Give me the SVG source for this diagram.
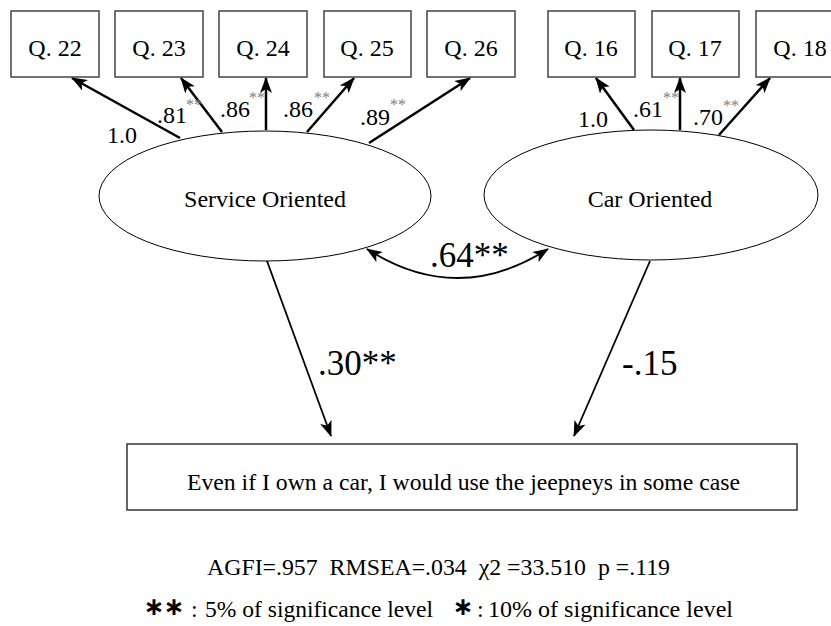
<svg xmlns="http://www.w3.org/2000/svg" width="831" height="626" viewBox="0 0 831 626">
<style>
  text { font-family: "Liberation Serif", "Tinos", "Times New Roman", "DejaVu Serif", serif; fill: #000; }
  .box { fill: #fff; stroke: #444; stroke-width: 1.5; }
  .ell { fill: #fff; stroke: #000; stroke-width: 1; }
  .q { font-size: 24px; text-anchor: middle; }
  .lbl { font-size: 24px; }
  .sup { font-size: 16px; fill: #808080; }
  .big { font-size: 35px; }
  .note { font-size: 24px; }
  .star { font-family: "DejaVu Sans", sans-serif; font-size: 25px; text-anchor: middle; font-weight: bold; }
  .thick { stroke: #000; stroke-width: 2.5; fill: none; marker-end: url(#ah); }
  .thin { stroke: #000; stroke-width: 1.8; fill: none; marker-end: url(#ah2); }
</style>
<defs>
  <marker id="ah" markerUnits="userSpaceOnUse" viewBox="0 0 16 12" refX="15" refY="6" markerWidth="16" markerHeight="12" orient="auto">
    <path d="M0,0 L16,6 L0,12 L4,6 z" fill="#000"/>
  </marker>
  <marker id="ah2" markerUnits="userSpaceOnUse" viewBox="0 0 16 12" refX="15" refY="6" markerWidth="16" markerHeight="12" orient="auto-start-reverse">
    <path d="M0,0 L16,6 L0,12 L4,6 z" fill="#000"/>
  </marker>
</defs>

<g id="connectors">
  <line class="thick" x1="180" y1="138" x2="72" y2="78"/>
  <line class="thick" x1="222" y1="132" x2="181" y2="78"/>
  <line class="thick" x1="266" y1="130" x2="266" y2="78"/>
  <line class="thick" x1="307" y1="132" x2="354" y2="78"/>
  <line class="thick" x1="369" y1="143" x2="470" y2="78"/>
  <line class="thick" x1="634" y1="130" x2="596" y2="78"/>
  <line class="thick" x1="680" y1="130" x2="680" y2="78"/>
  <line class="thick" x1="719" y1="135" x2="770" y2="78"/>
  <path class="thin" d="M367,249 Q457,307 548,249" style="marker-start:url(#ah2)"/>
  <line class="thin" x1="267" y1="261" x2="331" y2="436"/>
  <line class="thin" x1="650" y1="261" x2="574" y2="436"/>
</g>

<g id="q22"><rect class="box" x="11" y="11" width="88" height="66"/><text class="q" x="55" y="56">Q. 22</text></g>
<g id="q23"><rect class="box" x="115" y="11" width="88" height="66"/><text class="q" x="159" y="56">Q. 23</text></g>
<g id="q24"><rect class="box" x="219" y="11" width="88" height="66"/><text class="q" x="263" y="56">Q. 24</text></g>
<g id="q25"><rect class="box" x="324" y="11" width="87" height="66"/><text class="q" x="367" y="56">Q. 25</text></g>
<g id="q26"><rect class="box" x="427" y="11" width="88" height="66"/><text class="q" x="471" y="56">Q. 26</text></g>
<g id="q16"><rect class="box" x="548" y="11" width="87" height="66"/><text class="q" x="591" y="56">Q. 16</text></g>
<g id="q17"><rect class="box" x="652" y="11" width="87" height="66"/><text class="q" x="695" y="56">Q. 17</text></g>
<g id="q18"><rect class="box" x="756" y="11" width="88" height="66"/><text class="q" x="800" y="56">Q. 18</text></g>

<g id="service">
  <ellipse class="ell" cx="265" cy="196" rx="166" ry="65"/>
  <text class="q" x="265" y="207">Service Oriented</text>
</g>
<g id="car">
  <ellipse class="ell" cx="651" cy="195" rx="167" ry="65"/>
  <text class="q" x="650" y="207">Car Oriented</text>
</g>

<g id="outcome">
  <rect class="box" x="127" y="444" width="670" height="66" style="stroke:#333"/>
  <text class="note" x="187" y="490" textLength="553" lengthAdjust="spacingAndGlyphs">Even if I own a car, I would use the jeepneys in some case</text>
</g>

<g id="labels">
  <text class="lbl" x="107" y="143">1.0</text>
  <text class="lbl" x="157" y="123">.81</text><text class="sup" x="186" y="110">**</text>
  <text class="lbl" x="220" y="117">.86</text><text class="sup" x="249" y="103">**</text>
  <text class="lbl" x="283" y="117">.86</text><text class="sup" x="314" y="103">**</text>
  <text class="lbl" x="360" y="125">.89</text><text class="sup" x="390" y="110">**</text>
  <text class="lbl" x="578" y="127">1.0</text>
  <text class="lbl" x="633" y="117">.61</text><text class="sup" x="663" y="103">**</text>
  <text class="lbl" x="693" y="125">.70</text><text class="sup" x="723" y="111">**</text>
  <text class="big" x="430" y="267">.64**</text>
  <text class="big" x="318" y="375">.30**</text>
  <text class="big" x="622" y="375">-.15</text>
</g>

<g id="notes">
  <text class="note" x="207" y="575" textLength="463" lengthAdjust="spacingAndGlyphs" xml:space="preserve">AGFI=.957  RMSEA=.034  χ2 =33.510  p =.119</text>
  <text class="star" x="154" y="615">∗</text>
  <text class="star" x="174" y="615">∗</text>
  <text class="note" x="191" y="617">:</text>
  <text class="note" x="205" y="617" textLength="228" lengthAdjust="spacingAndGlyphs">5% of significance level</text>
  <text class="star" x="463" y="615">∗</text>
  <text class="note" x="477" y="617">:</text>
  <text class="note" x="488" y="617" textLength="245" lengthAdjust="spacingAndGlyphs">10% of significance level</text>
</g>
</svg>
